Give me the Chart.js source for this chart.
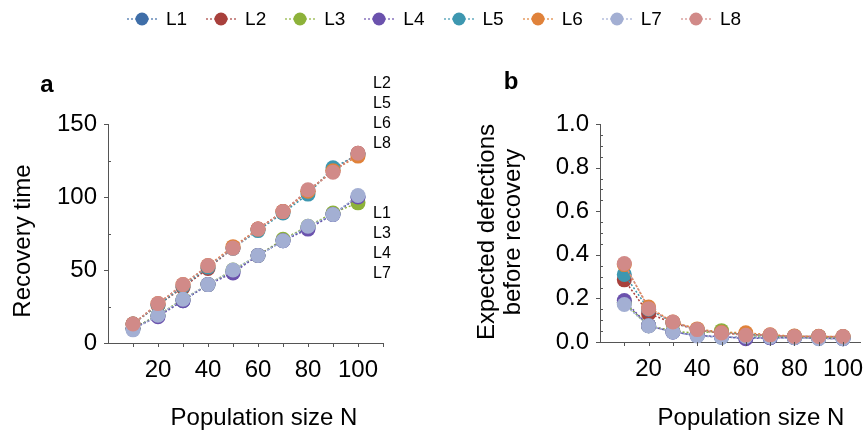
<!DOCTYPE html>
<html>
<head>
<meta charset="utf-8">
<script src="https://cdn.jsdelivr.net/npm/chart.js@4"></script>
<style>
  body { margin: 0; background: #fff; font-family: "Liberation Sans", Arial, sans-serif; }
  #wrap { position: relative; width: 868px; height: 434px; overflow: hidden; }
  canvas { position: absolute; top: 0; }
  #legend { position: absolute; left: 0; top: 0; width: 868px; height: 38px; display: flex; justify-content: center; align-items: center; }
  .item { display: flex; align-items: center; margin: 0 9.5px; }
  .item span { font-size: 19px; margin-left: 9px; color: #000; }
</style>
</head>
<body>
<div id="wrap">
  <canvas id="canvas1" width="434" height="434" style="left:0"></canvas>
  <canvas id="canvas2" width="434" height="434" style="left:434px"></canvas>
  <div id="legend"></div>
</div>
<script>
"use strict";

// data
let popN = [10, 20, 30, 40, 50, 60, 70, 80, 90, 100];
let names = ["L1", "L2", "L3", "L4", "L5", "L6", "L7", "L8"];
let colors = ["#3f6ea8", "#a8403c", "#8db23a", "#6b52ad", "#3d97b0", "#e0823a", "#a3afd3", "#d18a88"];

// panel a: recovery time
let recL1 = [10, 19, 29, 40, 49, 60, 70, 79, 88, 100];
let recL2 = [13, 26, 38, 51, 65, 78, 90, 104, 118, 130];
let recL3 = [10, 19, 30, 40, 50, 60, 71, 80, 89, 96];
let recL4 = [10, 18, 29, 40, 48, 60, 70, 78, 88, 100];
let recL5 = [13, 26, 39, 52, 65, 77, 89, 102, 120, 129];
let recL6 = [13, 27, 40, 53, 66, 78, 90, 104, 118, 128];
let recL7 = [9, 19, 30, 40, 50, 60, 70, 80, 88, 101];
let recL8 = [13, 27, 40, 53, 65, 78, 90, 105, 117, 130];

// panel b: expected defections before recovery
let defL1 = [0.18, 0.075, 0.046, 0.03, 0.022, 0.02, 0.02, 0.02, 0.018, 0.015];
let defL2 = [0.285, 0.13, 0.088, 0.055, 0.04, 0.035, 0.03, 0.025, 0.025, 0.024];
let defL3 = [0.18, 0.075, 0.05, 0.04, 0.052, 0.03, 0.025, 0.022, 0.02, 0.018];
let defL4 = [0.19, 0.075, 0.046, 0.03, 0.025, 0.015, 0.02, 0.02, 0.018, 0.015];
let defL5 = [0.31, 0.15, 0.09, 0.057, 0.045, 0.035, 0.03, 0.026, 0.025, 0.024];
let defL6 = [0.355, 0.16, 0.092, 0.06, 0.045, 0.042, 0.033, 0.027, 0.026, 0.025];
let defL7 = [0.172, 0.074, 0.046, 0.028, 0.022, 0.025, 0.022, 0.02, 0.015, 0.015];
let defL8 = [0.36, 0.153, 0.092, 0.057, 0.041, 0.031, 0.032, 0.025, 0.025, 0.025];

let recAll = [recL1, recL2, recL3, recL4, recL5, recL6, recL7, recL8];
let defAll = [defL1, defL2, defL3, defL4, defL5, defL6, defL7, defL8];

let xTicks = [20, 40, 60, 80, 100];
let yTicksA = [0, 50, 100, 150];
let yTicksB = [0, 0.2, 0.4, 0.6, 0.8, 1.0];

Chart.defaults.font.family = "'Liberation Sans', Arial, sans-serif";
Chart.defaults.color = "#000";

// legend (html)
let leg = document.querySelector("#legend");
names.forEach((n, i) => {
    let c = colors[i];
    leg.innerHTML += '<div class="item"><svg width="30" height="14">' +
        '<line x1="0" y1="7" x2="30" y2="7" stroke="' + c + '" stroke-width="1.5" stroke-dasharray="2,2" opacity="0.8"/>' +
        '<circle cx="15" cy="7" r="6.5" fill="' + c + '"/></svg><span>' + n + '</span></div>';
});

function makeSets(all)
{
    return all.map((arr, i) => ({
        label: names[i],
        data: popN.map((x, j) => ({ x: x, y: arr[j] })),
        borderColor: colors[i],
        backgroundColor: colors[i],
        borderWidth: 1.5,
        borderDash: [2, 2],
        pointRadius: 7.5,
        pointHoverRadius: 7.5,
        pointBorderWidth: 0,
        tension: 0,
        clip: false,
        order: 8 - i,
    }));
}

// ticks: major outward, minor inward on y; all outward on x
let tickPlugin = {
    id: "tickmarks",
    afterDraw(chart, args, o) {
        let ctx = chart.ctx;
        let xs = chart.scales.x;
        let ys = chart.scales.y;
        ctx.save();
        ctx.strokeStyle = "#555";
        ctx.lineWidth = 1;
        ctx.beginPath();
        xs.ticks.forEach(t => {
            if (t.value <= 0 || Math.abs(t.value % 10) > 1e-6) return;
            let px = Math.round(xs.getPixelForValue(t.value)) + 0.5;
            ctx.moveTo(px, ys.bottom);
            ctx.lineTo(px, ys.bottom + 4);
        });
        ys.ticks.forEach(t => {
            let py = Math.round(ys.getPixelForValue(t.value)) + 0.5;
            let major = Math.abs(Math.round(t.value / o.major) * o.major - t.value) < 1e-6;
            if (major) {
                ctx.moveTo(xs.left - 4, py);
                ctx.lineTo(xs.left, py);
            } else {
                ctx.moveTo(xs.left, py);
                ctx.lineTo(xs.left + 3, py);
            }
        });
        ctx.stroke();

        // texts
        (o.texts || []).forEach(tx => {
            ctx.save();
            ctx.font = tx.font;
            ctx.fillStyle = "#000";
            ctx.textAlign = tx.align || "center";
            ctx.textBaseline = tx.base || "middle";
            ctx.translate(tx.x, tx.y);
            if (tx.rot) ctx.rotate(tx.rot);
            ctx.fillText(tx.t, 0, 0);
            ctx.restore();
        });
        ctx.restore();
    }
};

function makeOpts(cfg)
{
    return {
        type: "line",
        data: { datasets: makeSets(cfg.all) },
        options: {
            responsive: false,
            animation: false,
            devicePixelRatio: 1,
            layout: { padding: cfg.pad },
            plugins: {
                legend: { display: false },
                tooltip: { enabled: false },
                tickmarks: { major: cfg.major, texts: cfg.texts },
            },
            scales: {
                x: {
                    type: "linear",
                    min: 0,
                    max: cfg.xmax,
                    afterFit: s => { s.height = cfg.xh; s.paddingLeft = 0; s.paddingRight = 0; },
                    grid: { display: true, drawOnChartArea: false, drawTicks: false },
                    border: { display: true, color: "#555", width: 1 },
                    ticks: {
                        stepSize: 10,
                        includeBounds: false,
                        autoSkip: false,
                        maxRotation: 0,
                        padding: 13,
                        font: { size: 24 },
                        callback: v => xTicks.includes(v) ? String(v) : "",
                    },
                },
                y: {
                    min: 0,
                    max: cfg.ymax,
                    afterFit: s => { s.width = cfg.yw; },
                    grid: { display: true, drawOnChartArea: false, drawTicks: false },
                    border: { display: true, color: "#555", width: 1 },
                    ticks: {
                        stepSize: cfg.minor,
                        autoSkip: false,
                        padding: 11,
                        font: { size: 24 },
                        callback: cfg.ylab,
                    },
                },
            },
        },
        plugins: [tickPlugin],
    };
}

let titleFont = "24px 'Liberation Sans', Arial, sans-serif";
let letterFont = "bold 24px 'Liberation Sans', Arial, sans-serif";
let smallFont = "16px 'Liberation Sans', Arial, sans-serif";

// chart a
let textsA = [
    { t: "a", x: 47, y: 85, font: letterFont },
    { t: "Recovery time", x: 30, y: 241, font: titleFont, rot: -Math.PI / 2, base: "alphabetic" },
    { t: "Population size N", x: 264, y: 425, font: titleFont, base: "alphabetic" },
];
let upper = ["L2", "L5", "L6", "L8"];
let lower = ["L1", "L3", "L4", "L7"];
upper.forEach((n, i) => textsA.push({ t: n, x: 373, y: 84 + i * 20, font: smallFont, align: "left" }));
lower.forEach((n, i) => textsA.push({ t: n, x: 373, y: 214 + i * 20, font: smallFont, align: "left" }));

let chart1 = new Chart(document.querySelector("#canvas1"), makeOpts({
    all: recAll,
    pad: { top: 124, right: 51, left: 0, bottom: 0 },
    xmax: 110, xh: 91,
    ymax: 150, minor: 25, major: 50, yw: 108,
    ylab: v => yTicksA.includes(v) ? String(v) : "",
    texts: textsA,
}));

// chart b
let textsB = [
    { t: "b", x: 77, y: 82, font: letterFont },
    { t: "Expected defections", x: 60, y: 232, font: titleFont, rot: -Math.PI / 2, base: "alphabetic" },
    { t: "before recovery", x: 86, y: 232, font: titleFont, rot: -Math.PI / 2, base: "alphabetic" },
    { t: "Population size N", x: 317, y: 425, font: titleFont, base: "alphabetic" },
];

let chart2 = new Chart(document.querySelector("#canvas2"), makeOpts({
    all: defAll,
    pad: { top: 124, right: 0, left: 0, bottom: 0 },
    xmax: 107.2, xh: 92,
    ymax: 1, minor: 0.05, major: 0.2, yw: 166,
    ylab: v => yTicksB.some(t => Math.abs(t - v) < 1e-6) ? v.toFixed(1) : "",
    texts: textsB,
}));
</script>
</body>
</html>
